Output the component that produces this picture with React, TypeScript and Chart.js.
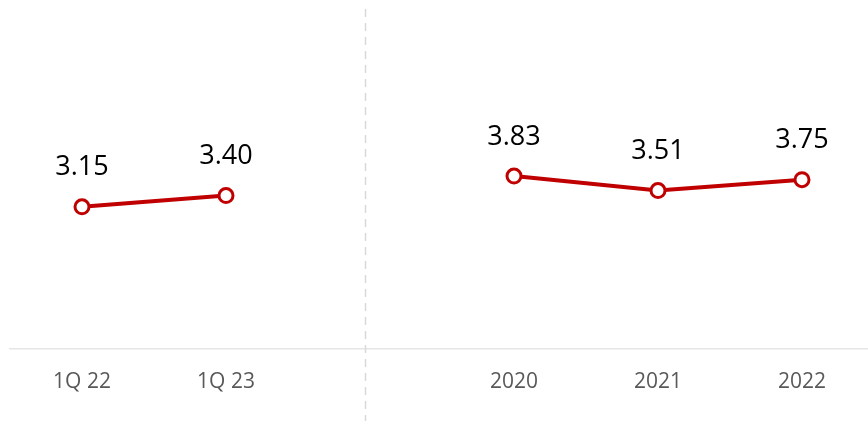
import React, { useEffect, useRef } from "react";
import { Chart, registerables } from "chart.js";

Chart.register(...registerables);

const categories = ["1Q 22", "1Q 23", "", "2020", "2021", "2022"];
const values: (number | null)[] = [3.15, 3.4, null, 3.83, 3.51, 3.75];

const FONT = "'Open Sans', 'DejaVu Sans', sans-serif";

const labelsPlugin = {
  id: "pointLabels",
  afterDatasetsDraw(chart: any) {
    const ctx = chart.ctx;
    const meta = chart.getDatasetMeta(0);
    ctx.save();
    ctx.font = `27px ${FONT}`;
    ctx.fillStyle = "#000000";
    ctx.textAlign = "center";
    ctx.textBaseline = "middle";
    meta.data.forEach((pt: any, i: number) => {
      const v = values[i];
      if (v === null || v === undefined) return;
      ctx.fillText(v.toFixed(2), pt.x, pt.y - 39);
    });
    ctx.restore();
  },
};

const dividerPlugin = {
  id: "divider",
  beforeDatasetsDraw(chart: any) {
    const ctx = chart.ctx;
    const xs = chart.scales.x;
    const area = chart.chartArea;
    const x = (xs.getPixelForValue(1) + xs.getPixelForValue(3)) / 2 - 4.5;
    ctx.save();
    ctx.strokeStyle = "#d9d9d9";
    ctx.lineWidth = 1.5;
    ctx.setLineDash([8, 6]);
    ctx.beginPath();
    ctx.moveTo(x, area.top - 24);
    ctx.lineTo(x, area.bottom + 72);
    ctx.stroke();
    ctx.restore();
  },
};

export default function App() {
  const ref = useRef<HTMLCanvasElement>(null);
  useEffect(() => {
    if (!ref.current) return;
    const chart = new Chart(ref.current, {
      type: "line",
      data: {
        labels: categories,
        datasets: [
          {
            data: values,
            borderColor: "#C00000",
            borderWidth: 4,
            pointRadius: 7,
            pointBorderWidth: 3,
            pointBackgroundColor: "#ffffff",
            pointBorderColor: "#C00000",
            spanGaps: false,
            tension: 0,
          },
        ],
      },
      options: {
        animation: false,
        responsive: false,
        maintainAspectRatio: false,
        layout: { padding: { left: 10, right: 0, top: 33, bottom: 0 } },
        plugins: { legend: { display: false }, tooltip: { enabled: false } },
        scales: {
          x: {
            offset: true,
            grid: { display: false, drawTicks: false },
            border: { display: true, color: "#e6e6e6", width: 1.5 },
            ticks: {
              color: "#595959",
              font: { family: FONT, size: 21 },
              padding: 20,
              maxRotation: 0,
            },
            afterFit: (s: any) => {
              s.height = 78;
            },
          },
          y: {
            display: false,
            min: 0,
            max: 7,
          },
        },
      },
      plugins: [dividerPlugin, labelsPlugin],
    });
    return () => chart.destroy();
  }, []);
  return (
    <div
      style={{
        position: "fixed",
        left: 0,
        top: 0,
        width: 868,
        height: 427,
        overflow: "hidden",
        background: "#ffffff",
      }}
    >
      <canvas ref={ref} width={884} height={427} style={{ display: "block" }} />
    </div>
  );
}
